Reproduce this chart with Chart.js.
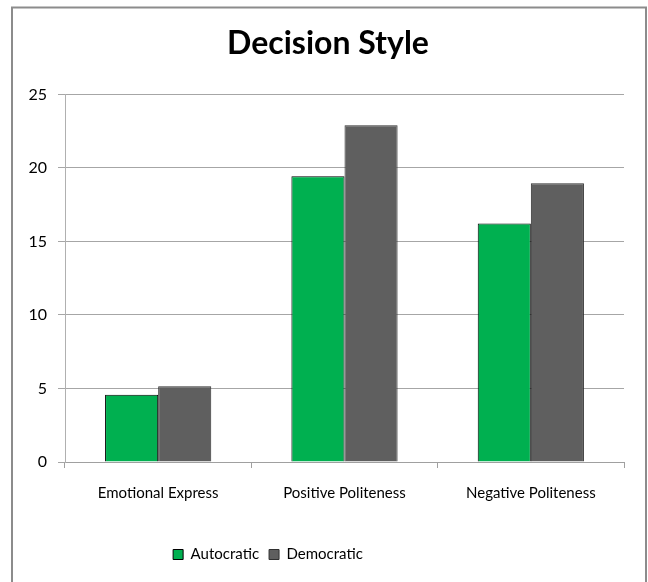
<!DOCTYPE html>
<html><head><meta charset="utf-8">
<script src="https://cdn.jsdelivr.net/npm/chart.js@4/dist/chart.umd.min.js"></script>
<style>html,body{margin:0;padding:0;background:#fff}#wrap{width:648px;height:582px}</style>
</head><body><div id="wrap"><canvas id="c" width="648" height="582"></canvas></div>
<script>
const categories = ["Emotional Express", "Positive Politeness", "Negative Politeness"];
const autocratic = [4.57, 19.43, 16.22];
const democratic = [5.16, 22.91, 18.95];
const yTicks = [0, 5, 10, 15, 20, 25];
const FONT = "Lato, 'Open Sans', sans-serif";

const frame = {
  id: 'frame',
  afterLayout(chart) {
    // nudge legend and title to the reference's horizontal positions
    if (chart.legend) { chart.legend.right -= 100; }
    if (chart.titleBlock) { chart.titleBlock.left += 20; }
  },
  beforeDraw(chart) {
    const ctx = chart.ctx;
    ctx.save();
    ctx.fillStyle = '#fff';
    ctx.fillRect(0, 0, chart.width, chart.height);
    ctx.strokeStyle = '#8c8c8c';
    ctx.lineWidth = 2;
    ctx.beginPath();
    ctx.moveTo(12, 600);
    ctx.lineTo(12, 7.5);
    ctx.lineTo(646, 7.5);
    ctx.lineTo(646, 600);
    ctx.stroke();
    ctx.restore();
  }
};

new Chart(document.getElementById('c'), {
  type: 'bar',
  data: {
    labels: categories,
    datasets: [
      { label: 'Autocratic', data: autocratic, backgroundColor: '#00b050', borderColor: '#000', borderWidth: 1 },
      { label: 'Democratic', data: democratic, backgroundColor: '#5f5f5f', borderColor: '#303030', borderWidth: 1 }
    ]
  },
  options: {
    responsive: false,
    animation: false,
    devicePixelRatio: 1,
    layout: { padding: { left: 12, right: 24, top: 0, bottom: 10 } },
    datasets: { bar: { categoryPercentage: 0.57, barPercentage: 1.0 } },
    plugins: {
      title: { display: true, text: 'Decision Style', color: '#000',
        font: { family: FONT, size: 32, weight: 'bold' }, padding: { top: 24, bottom: 32 } },
      legend: { position: 'bottom', labels: { color: '#000', font: { family: FONT, size: 15 },
        boxWidth: 10, boxHeight: 10, padding: 10 } },
      tooltip: { enabled: false }
    },
    scales: {
      x: {
        afterFit(s) { s.height += 19; },
        grid: { display: true, drawOnChartArea: false, offset: true, tickLength: 6, color: '#a0a0a0' },
        border: { color: '#a0a0a0' },
        ticks: { color: '#000', font: { family: FONT, size: 15 }, padding: 16 }
      },
      y: {
        min: 0, max: 25,
        afterFit(s) { s.width = 53; },
        afterBuildTicks(s) { s.ticks = yTicks.map(v => ({ value: v })); },
        grid: { color: '#a6a6a6', tickLength: 7 },
        border: { color: '#b0b0b0' },
        ticks: { color: '#000', font: { family: FONT, size: 16 }, padding: 11 }
      }
    }
  },
  plugins: [frame]
});
</script></body></html>
